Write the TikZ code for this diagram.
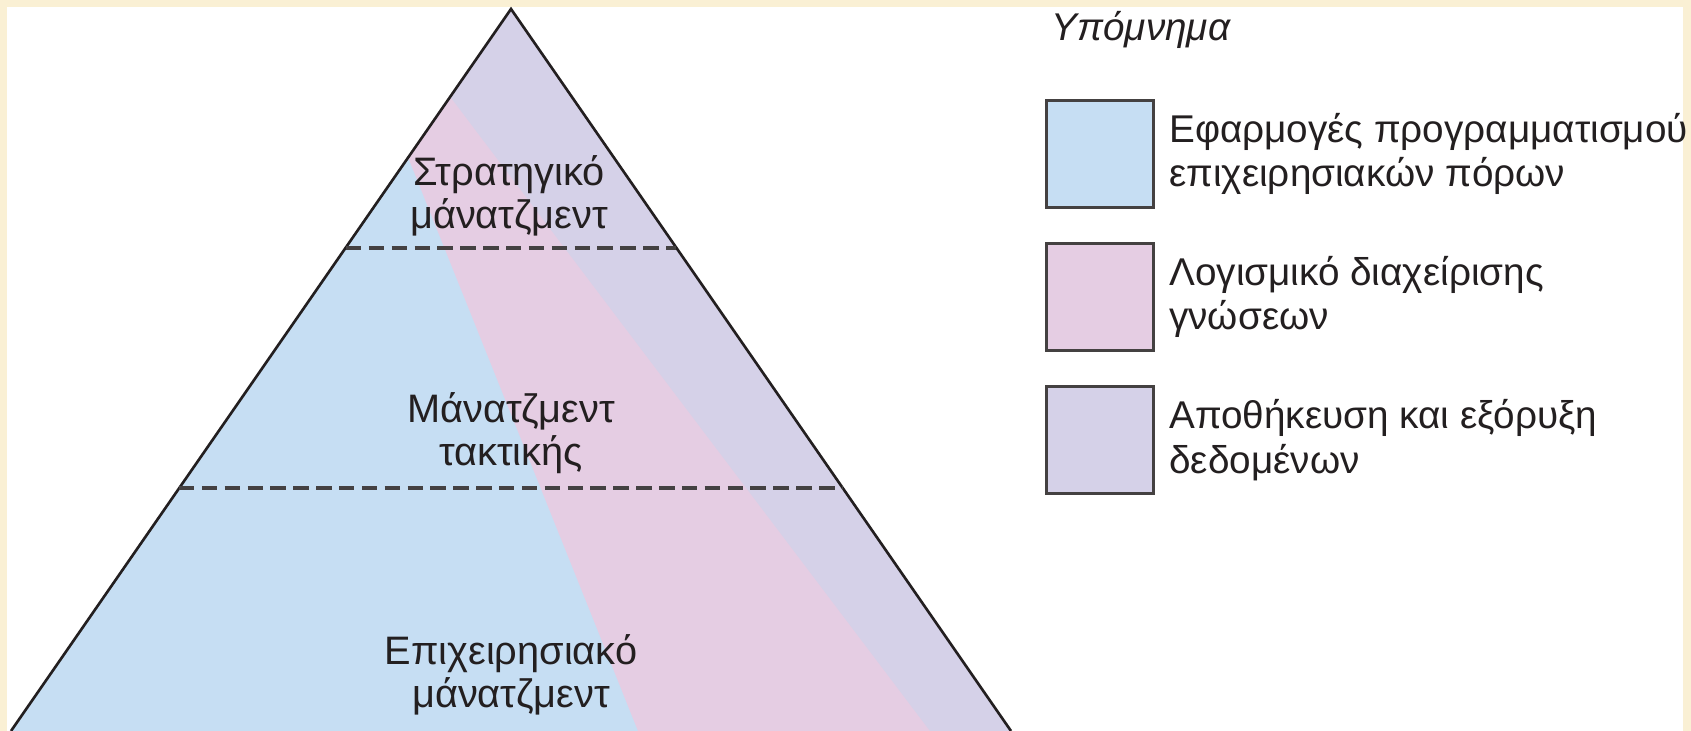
\documentclass[tikz,border=0pt]{standalone}
\usepackage{fontspec}
\setmainfont{Liberation Sans}
\usetikzlibrary{positioning}

\definecolor{cream}{RGB}{250,240,212}
\definecolor{erpblue}{RGB}{198,222,243}
\definecolor{kmpink}{RGB}{229,205,227}
\definecolor{dwlilac}{RGB}{213,209,232}
\definecolor{ink}{RGB}{35,31,32}

\begin{document}
\begin{tikzpicture}[x=0.01cm,y=-0.01cm,
    level/.style={align=center,inner sep=0pt,text=ink,font=\fontsize{11.3}{12.4}\selectfont},
    levelline/.style={ink!85,line width=1pt,dash pattern=on 4.4pt off 2.1pt},
    keybox/.style={draw=ink!85,line width=0.6pt,minimum size=1.07cm,inner sep=0pt},
    keytext/.style={align=left,inner sep=0pt,text=ink,font=\fontsize{11}{12.6}\selectfont}]

    \useasboundingbox (0,0) rectangle (1691,731);
    \fill[cream] (0,0) rectangle (1691,731);
    \fill[white] (7,7) rectangle (1683,740);

    % Pyramid corners
    \coordinate (top) at (511,9);
    \coordinate (bl) at (11,731);
    \coordinate (br) at (1011,731);

    % Coloured bands
    \begin{scope}
      \clip (top) -- (bl) -- (br) -- cycle;
      \fill[erpblue] (0,0) rectangle (1100,731);
      \fill[kmpink] (345,0) -- (638,731) -- (1100,731) -- (1100,0) -- cycle;
      \fill[dwlilac] (377,0) -- (930,731) -- (1100,731) -- (1100,0) -- cycle;
    \end{scope}
    \draw[ink,line width=0.75pt,line join=miter] (bl) -- (top) -- (br);

    % Level borders
    \draw[levelline] (346,248) -- (676,248);
    \draw[levelline] (179,488) -- (843,488);

    \node[level] (strat) at (509,196) {Στρατηγικό\\μάνατζμεντ};
    \node[level] (tact) at (511,433) {Μάνατζμεντ\\τακτικής};
    \node[level] (oper) at (511,675) {Επιχειρησιακό\\μάνατζμεντ};

    % Legend
    \node[keytext,anchor=west,font=\fontsize{11}{12.6}\selectfont\itshape] (title) at (1051,30) {Υπόμνημα};
    \node[keybox,fill=erpblue] (k1) at (1100,154) {};
    \node[keybox,fill=kmpink] (k2) at (1100,297) {};
    \node[keybox,fill=dwlilac] (k3) at (1100,440) {};
    \node[keytext,right=0.14cm of k1] (t1) {Εφαρμογές προγραμματισμού\\επιχειρησιακών πόρων};
    \node[keytext,right=0.14cm of k2] (t2) {Λογισμικό διαχείρισης\\γνώσεων};
    \node[keytext,right=0.14cm of k3] (t3) {Αποθήκευση και εξόρυξη\\δεδομένων};
\end{tikzpicture}
\end{document}
